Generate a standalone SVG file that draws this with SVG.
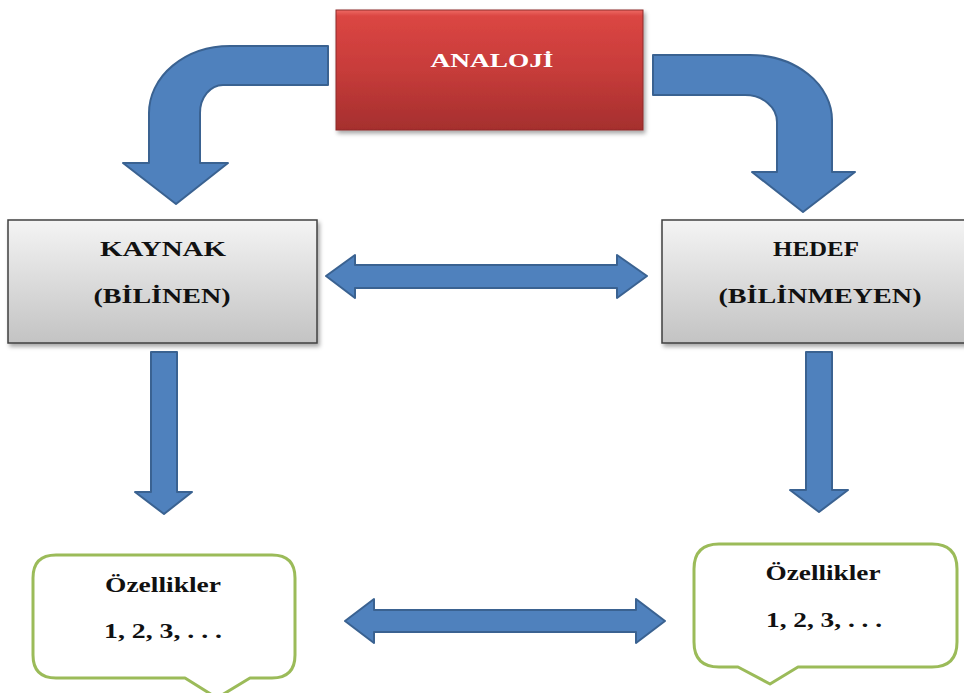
<svg xmlns="http://www.w3.org/2000/svg" width="964" height="693" viewBox="0 0 964 693">
<defs>
<linearGradient id="red" x1="0" y1="0" x2="0" y2="1">
<stop offset="0" stop-color="#ee6a64"/>
<stop offset="0.05" stop-color="#db4643"/>
<stop offset="0.5" stop-color="#c73c3a"/>
<stop offset="1" stop-color="#a52f2e"/>
</linearGradient>
<linearGradient id="gray" x1="0" y1="0" x2="0" y2="1">
<stop offset="0" stop-color="#f4f4f4"/>
<stop offset="1" stop-color="#c3c3c3"/>
</linearGradient>
<filter id="sh" x="-10%" y="-10%" width="125%" height="130%">
<feDropShadow dx="2" dy="3" stdDeviation="2" flood-color="#000" flood-opacity="0.35"/>
</filter>
</defs>
<style>
.arrow{fill:#4f81bd;stroke:#3a6291;stroke-width:2;stroke-linejoin:round}
.gbox{fill:url(#gray);stroke:#404040;stroke-width:1.5}
.call{fill:#ffffff;stroke:#9bbb59;stroke-width:3;stroke-linejoin:round}
.t{font-family:"Liberation Serif","Times New Roman",serif;font-weight:bold;font-size:21px;fill:#111;text-anchor:middle}
.w{fill:#ffffff;font-size:19px}
</style>

<g id="connectors">
<path class="arrow" d="M328,46 L230,46 A81,67 0 0 0 149,113 L149,163 L123,163 L176,204 L228,163 L200,163 L200,113 A23,28 0 0 1 223,85 L328,85 Z"/>
<path class="arrow" d="M653,55 L750,55 A82,65 0 0 1 832,120 L832,172 L855,172 L803,212 L752,172 L777,172 L777,122 A32,27 0 0 0 745,95 L653,95 Z"/>
<path class="arrow" d="M326,276 L355,255 L355,265 L617,265 L617,255 L647,276 L617,298 L617,288 L355,288 L355,298 Z"/>
<path class="arrow" d="M345,621 L374,599 L374,610 L636,610 L636,599 L665,621 L636,643 L636,632 L374,632 L374,643 Z"/>
<path class="arrow" d="M151,352 L177,352 L177,492 L192,492 L164,514 L135,492 L151,492 Z"/>
<path class="arrow" d="M806,352 L832,352 L832,490 L848,490 L819,512 L790,490 L806,490 Z"/>
</g>

<g id="analoji">
<rect x="336" y="10" width="307" height="120" fill="url(#red)" stroke="#8e2b2b" stroke-width="1" filter="url(#sh)"/>
<text class="t w" x="492" y="67" textLength="123" lengthAdjust="spacingAndGlyphs">ANALOJİ</text>
</g>

<g id="kaynak">
<rect class="gbox" x="8" y="220" width="309" height="123" filter="url(#sh)"/>
<text class="t" x="163" y="256" textLength="126" lengthAdjust="spacingAndGlyphs">KAYNAK</text>
<text class="t" x="162" y="303" textLength="137" lengthAdjust="spacingAndGlyphs">(BİLİNEN)</text>
</g>

<g id="hedef">
<rect class="gbox" x="662" y="220" width="310" height="123" filter="url(#sh)"/>
<text class="t" x="816" y="256" textLength="86" lengthAdjust="spacingAndGlyphs">HEDEF</text>
<text class="t" x="820" y="303" textLength="203" lengthAdjust="spacingAndGlyphs">(BİLİNMEYEN)</text>
</g>

<g id="ozellikler-left">
<path class="call" d="M56,555 L272,555 Q295,555 295,578 L295,655 Q295,678 272,678 L250,678 L217,698 L185,678 L56,678 Q33,678 33,655 L33,578 Q33,555 56,555 Z"/>
<text class="t" x="163" y="592" textLength="116" lengthAdjust="spacingAndGlyphs">Özellikler</text>
<text class="t" x="163" y="638" textLength="118" lengthAdjust="spacingAndGlyphs">1, 2, 3, . . .</text>
</g>

<g id="ozellikler-right">
<path class="call" d="M719,544 L932,544 Q957,544 957,569 L957,642 Q957,667 932,667 L798,667 L770,684 L738,667 L719,667 Q694,667 694,642 L694,569 Q694,544 719,544 Z"/>
<text class="t" x="823" y="580" textLength="115" lengthAdjust="spacingAndGlyphs">Özellikler</text>
<text class="t" x="824" y="627" textLength="116" lengthAdjust="spacingAndGlyphs">1, 2, 3, . . .</text>
</g>
</svg>
